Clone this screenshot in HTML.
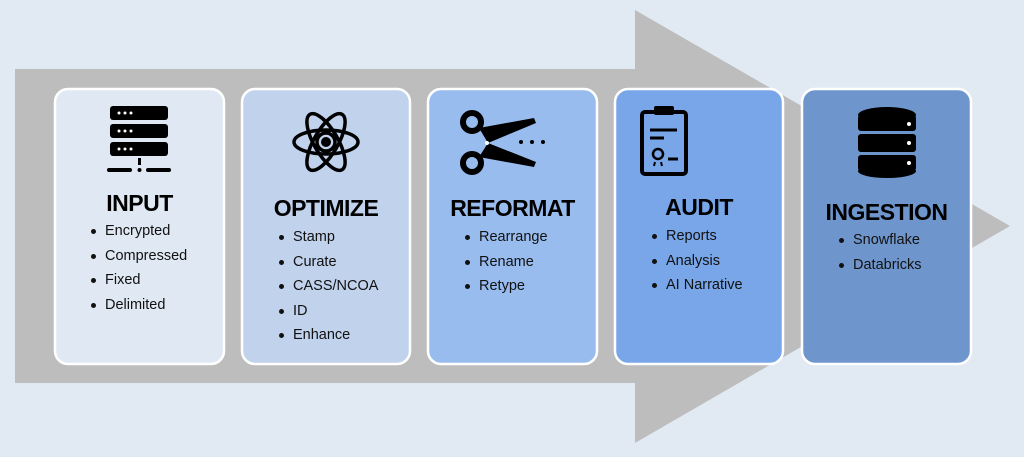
<!DOCTYPE html>
<html><head><meta charset="utf-8"><style>
body{margin:0;width:1024px;height:457px;background:#e1eaf3;overflow:hidden;position:relative;font-family:"Liberation Sans",sans-serif}
.t{position:absolute;font-weight:bold;font-size:23px;color:#000;text-align:center;letter-spacing:-0.5px}
.b{position:absolute;font-size:14.5px;color:#111;line-height:24.6px;margin:0;padding:0;list-style:none}
.b li{position:relative;padding-left:14px}
.b li:before{content:"";position:absolute;left:0;top:10px;width:5px;height:5px;border-radius:50%;background:#111}
</style></head><body>
<svg width="1024" height="457" style="position:absolute;left:0;top:0">
<polygon points="15,69 635,69 635,10 1010,226 635,443 635,383 15,383" fill="#bdbdbd"/>
<rect x="55" y="89" width="169" height="275" rx="13" fill="#e0e9f3" stroke="#fff" stroke-width="2.5"/>
<rect x="242" y="89" width="168" height="275" rx="13" fill="#c1d2ec" stroke="#fff" stroke-width="2.5"/>
<rect x="428" y="89" width="169" height="275" rx="13" fill="#99bcef" stroke="#fff" stroke-width="2.5"/>
<rect x="615" y="89" width="168" height="275" rx="13" fill="#78a6e8" stroke="#fff" stroke-width="2.5"/>
<rect x="802" y="89" width="169" height="275" rx="13" fill="#6e96cc" stroke="#fff" stroke-width="2.5"/>
<!-- server -->
<g fill="#000">
<rect x="110" y="106" width="58" height="14" rx="3"/><rect x="110" y="124" width="58" height="14" rx="3"/><rect x="110" y="142" width="58" height="14" rx="3"/>
<rect x="138" y="158" width="3" height="7"/><rect x="107" y="168" width="25" height="4" rx="2"/><rect x="146" y="168" width="25" height="4" rx="2"/><circle cx="139.5" cy="170" r="2"/>
</g>
<g fill="#fff"><circle cx="119" cy="113" r="1.5"/><circle cx="125" cy="113" r="1.5"/><circle cx="131" cy="113" r="1.5"/><circle cx="119" cy="131" r="1.5"/><circle cx="125" cy="131" r="1.5"/><circle cx="131" cy="131" r="1.5"/><circle cx="119" cy="149" r="1.5"/><circle cx="125" cy="149" r="1.5"/><circle cx="131" cy="149" r="1.5"/></g>
<!-- atom -->
<g fill="none" stroke="#000" stroke-width="3.5">
<ellipse cx="326" cy="142" rx="32" ry="12"/>
<ellipse cx="326" cy="142" rx="32" ry="12" transform="rotate(60 326 142)"/>
<ellipse cx="326" cy="142" rx="32" ry="12" transform="rotate(-60 326 142)"/>
<circle cx="326" cy="142" r="9"/></g>
<circle cx="326" cy="142" r="5" fill="#000"/>
<!-- scissors -->
<g fill="none" stroke="#000" stroke-width="6"><circle cx="472" cy="122" r="9"/><circle cx="472" cy="163" r="9"/></g>
<polygon points="479,128 534,118 536,123 488,143" fill="#000"/>
<polygon points="479,157 534,167 536,162 488,143" fill="#000"/>
<circle cx="487" cy="143" r="2" fill="#fff"/>
<g fill="#000"><circle cx="521" cy="142" r="2"/><circle cx="532" cy="142" r="2"/><circle cx="543" cy="142" r="2"/></g>
<!-- clipboard -->
<g fill="none" stroke="#000" stroke-width="4"><rect x="642" y="112" width="44" height="62" rx="3"/></g>
<rect x="654" y="106" width="20" height="9" rx="2" fill="#000"/>
<g stroke="#000" stroke-width="3"><line x1="650" y1="130" x2="677" y2="130"/><line x1="650" y1="138" x2="664" y2="138"/><line x1="668" y1="159" x2="678" y2="159"/></g>
<circle cx="658" cy="154" r="5" fill="none" stroke="#000" stroke-width="2.5"/>
<g stroke="#000" stroke-width="2"><line x1="655" y1="162" x2="654" y2="166"/><line x1="661" y1="162" x2="662" y2="166"/></g>
<!-- database -->
<g fill="#000"><ellipse cx="887" cy="115" rx="29" ry="8"/><rect x="858" y="115" width="58" height="16" rx="3"/><rect x="858" y="134" width="58" height="18" rx="3"/><rect x="858" y="155" width="58" height="16" rx="3"/><ellipse cx="887" cy="171" rx="29" ry="7"/></g>
<g fill="#fff"><circle cx="909" cy="124" r="2"/><circle cx="909" cy="143" r="2"/><circle cx="909" cy="163" r="2"/></g>
</svg>
<div class="t" style="left:55px;width:169px;top:190px">INPUT</div>
<div class="t" style="left:242px;width:168px;top:195px">OPTIMIZE</div>
<div class="t" style="left:428px;width:169px;top:195px">REFORMAT</div>
<div class="t" style="left:615px;width:168px;top:194px">AUDIT</div>
<div class="t" style="left:802px;width:169px;top:199px">INGESTION</div>
<ul class="b" style="left:91px;top:219px"><li>Encrypted</li><li>Compressed</li><li>Fixed</li><li>Delimited</li></ul>
<ul class="b" style="left:279px;top:225px"><li>Stamp</li><li>Curate</li><li>CASS/NCOA</li><li>ID</li><li>Enhance</li></ul>
<ul class="b" style="left:465px;top:225px"><li>Rearrange</li><li>Rename</li><li>Retype</li></ul>
<ul class="b" style="left:652px;top:224px"><li>Reports</li><li>Analysis</li><li>AI Narrative</li></ul>
<ul class="b" style="left:839px;top:228px"><li>Snowflake</li><li>Databricks</li></ul>
</body></html>
